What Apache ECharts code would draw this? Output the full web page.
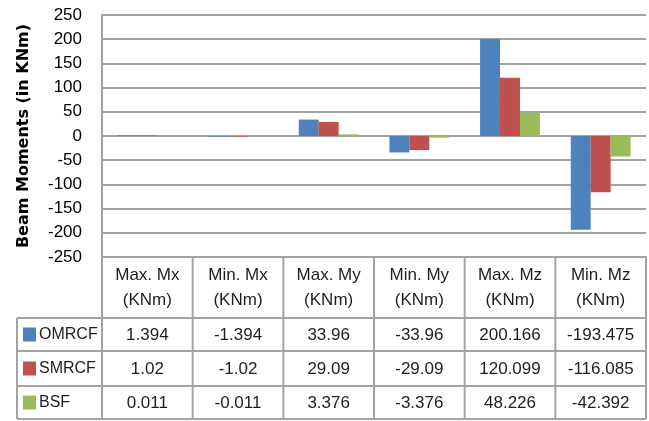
<!DOCTYPE html>
<html><head><meta charset="utf-8">
<script src="https://cdn.jsdelivr.net/npm/echarts@6/dist/echarts.min.js"></script>
<style>html,body{margin:0;padding:0;background:#fff}#c{width:649px;height:421px}</style>
</head><body><div id="c"></div>
<script>
// ---- data ----
const categories = ['Max. Mx', 'Min. Mx', 'Max. My', 'Min. My', 'Max. Mz', 'Min. Mz'];
const unitLabel = '(KNm)';
const seriesNames = ['OMRCF', 'SMRCF', 'BSF'];
const omrcf = [1.394, -1.394, 33.96, -33.96, 200.166, -193.475];
const smrcf = [1.02, -1.02, 29.09, -29.09, 120.099, -116.085];
const bsf = [0.011, -0.011, 3.376, -3.376, 48.226, -42.392];
const yMin = -250, yMax = 250, yInterval = 50;
const yTitle = 'Beam Moments (in KNm)';

// ---- style ----
const colors = ['#4F81BD', '#C0504D', '#9BBB59'];
const lineColor = '#a3a3a3';
const textColor = '#1e1e1e';
const font = 'Liberation Sans, Arial, sans-serif';
const gridLeft = 102, gridTop = 15, gridRightEdge = 646, gridBottomEdge = 257;
const tableLeft = 17;
const rowEdges = [318, 351, 386, 419];

const chart = echarts.init(document.getElementById('c'), null, {renderer: 'canvas'});
const seriesData = [omrcf, smrcf, bsf];

chart.setOption({
  animation: false,
  backgroundColor: '#fff',
  grid: {left: gridLeft, top: gridTop, right: 649 - gridRightEdge, bottom: 421 - gridBottomEdge, containLabel: false},
  xAxis: {
    type: 'category',
    data: categories,
    axisLine: {onZero: false, lineStyle: {color: lineColor, width: 2}},
    axisTick: {show: false},
    axisLabel: {
      formatter: v => v + '\n' + unitLabel,
      fontFamily: font, fontSize: 17, lineHeight: 25, color: textColor, margin: 6, interval: 0
    },
    splitLine: {show: false}
  },
  yAxis: {
    type: 'value',
    min: yMin, max: yMax, interval: yInterval,
    name: yTitle,
    nameLocation: 'middle',
    nameRotate: 90,
    nameGap: 70,
    nameTextStyle: {fontFamily: 'DejaVu Sans, sans-serif', fontWeight: 'bold', fontSize: 16, color: '#000'},
    axisLine: {show: true, lineStyle: {color: lineColor, width: 2}},
    axisTick: {show: false},
    axisLabel: {fontFamily: font, fontSize: 17, color: '#000', margin: 20},
    splitLine: {show: true, lineStyle: {color: lineColor, width: 2}}
  },
  series: seriesNames.map((n, i) => ({
    name: n,
    type: 'bar',
    data: seriesData[i],
    barGap: '0%',
    barCategoryGap: '34%',
    itemStyle: {color: colors[i]}
  }))
});

// ---- data table (positions derived from the axis scale) ----
const centers = categories.map((c, i) => chart.convertToPixel({xAxisIndex: 0}, i));
const band = centers.length > 1 ? centers[1] - centers[0] : (gridRightEdge - gridLeft);
const edges = centers.map(c => c - band / 2).concat([centers[centers.length - 1] + band / 2]);
const g = [];
const ln = (x1, y1, x2, y2) => g.push({type: 'line', shape: {x1, y1, x2, y2}, style: {stroke: lineColor, lineWidth: 2}, z: 10});
// horizontal lines
rowEdges.forEach(y => ln(tableLeft, y, edges[edges.length - 1], y));
// vertical lines
ln(tableLeft, rowEdges[0], tableLeft, rowEdges[rowEdges.length - 1]);
edges.forEach(x => ln(x, gridBottomEdge, x, rowEdges[rowEdges.length - 1]));
// rows
seriesNames.forEach((n, r) => {
  const yc = (rowEdges[r] + rowEdges[r + 1]) / 2;
  g.push({type: 'rect', shape: {x: 23, y: yc - 7, width: 13, height: 14}, style: {fill: colors[r]}, z: 10});
  g.push({type: 'text', x: 39, y: yc, style: {text: n, font: '16px ' + font, fill: textColor, textAlign: 'left', textVerticalAlign: 'middle'}, z: 10});
  seriesData[r].forEach((v, i) => {
    g.push({type: 'text', x: centers[i], y: yc + 1, style: {text: String(v), font: '17px ' + font, fill: textColor, textAlign: 'center', textVerticalAlign: 'middle'}, z: 10});
  });
});
chart.setOption({graphic: {elements: g}});
</script>
</body></html>
